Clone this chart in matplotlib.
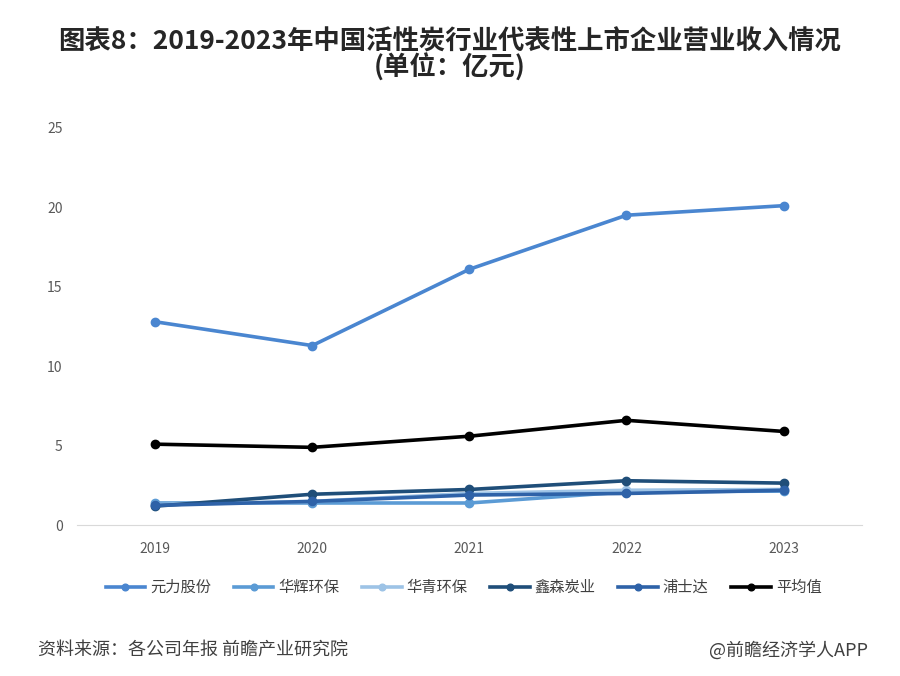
import numpy as np
import matplotlib.pyplot as plt

plt.rcParams['font.family'] = ['Noto Sans CJK SC', 'DejaVu Sans']

years = ['2019', '2020', '2021', '2022', '2023']
yuanli = [12.8, 11.3, 16.1, 19.5, 20.1]
huahui = [1.4, 1.4, 1.4, 2.1, 2.15]
huaqing = [1.3, 1.5, 2.0, 2.2, 2.25]
xinsen = [1.2, 1.95, 2.25, 2.8, 2.65]
pushida = [1.25, 1.5, 1.9, 2.0, 2.2]
average = [5.1, 4.9, 5.6, 6.6, 5.9]

series = [
    ('元力股份', yuanli, '#4A86D0'),
    ('华辉环保', huahui, '#5B9BD5'),
    ('华青环保', huaqing, '#9DC3E6'),
    ('鑫森炭业', xinsen, '#1F4E79'),
    ('浦士达', pushida, '#2E62A8'),
    ('平均值', average, '#000000'),
]

fig = plt.figure(figsize=(9, 6.76), dpi=100)
ax = fig.add_axes([0.085, 0.223, 0.873, 0.588])

x = np.arange(len(years))
for name, vals, color in series:
    ax.plot(x, vals, color=color, linewidth=2.6, marker='o', markersize=6, label=name)

ax.set_xlim(-0.5, len(years) - 0.5)
ax.set_ylim(0, 25)
ax.set_yticks(range(0, 26, 5))
ax.set_xticks(x)
ax.set_xticklabels(years)
ax.tick_params(axis='both', length=0, labelsize=10, colors='#595959')
ax.tick_params(axis='x', pad=12)
ax.tick_params(axis='y', pad=10)
for s in ['top', 'right', 'left']:
    ax.spines[s].set_visible(False)
ax.spines['bottom'].set_color('#D9D9D9')

fig.legend(loc='center', bbox_to_anchor=(0.515, 0.131), ncol=6, frameon=False,
           fontsize=11, handlelength=2.6, columnspacing=1.5, handletextpad=0.3,
           markerscale=0.8, labelcolor='#404040')

fig.text(0.5, 0.938, '图表8：2019-2023年中国活性炭行业代表性上市企业营业收入情况',
         ha='center', va='center', fontsize=19, fontweight='bold', color='#262626')
fig.text(0.5, 0.9, '(单位：亿元)', ha='center', va='center', fontsize=19,
         fontweight='bold', color='#262626')

fig.text(0.042, 0.038, '资料来源：各公司年报 前瞻产业研究院', ha='left', va='center',
         fontsize=13, color='#404040')
fig.text(0.965, 0.038, '@前瞻经济学人APP', ha='right', va='center',
         fontsize=13, color='#404040')

fig.savefig('out.png', dpi=100)
